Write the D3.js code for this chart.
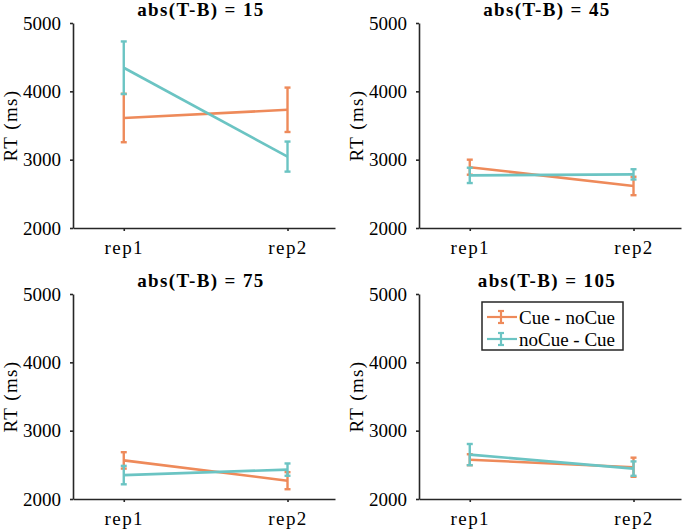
<!DOCTYPE html>
<html>
<head>
<meta charset="utf-8">
<script src="https://cdn.jsdelivr.net/npm/d3@7"></script>
<style>
  body { margin: 0; background: #fff; }
</style>
</head>
<body>
<script>
// conditions on the x axis
var conditions = ["rep1", "rep2"];
// one panel per abs(T-B) level
var panelTitles = ["abs(T-B) = 15", "abs(T-B) = 45", "abs(T-B) = 75", "abs(T-B) = 105"];
var seriesNames = ["Cue - noCue", "noCue - Cue"];
// mean RT per panel [rep1, rep2]
var cueNoCueMean = [[3610, 3730], [2890, 2615], [2565, 2268], [2575, 2465]];
var cueNoCueErr  = [[355, 325], [110, 135], [120, 125], [80, 140]];
var noCueCueMean = [[4345, 3045], [2770, 2785], [2350, 2430], [2650, 2445]];
var noCueCueErr  = [[385, 220], [112, 75], [135, 90], [155, 105]];
var yTicks = [2000, 3000, 4000, 5000];

var colors = ["#EE8A5A", "#6BC4C3"];
var axisColor = "#262626";
var serif = "Liberation Serif, Times New Roman, Times, DejaVu Serif, serif";

var svg = d3.select("body").append("svg")
  .attr("width", 685)
  .attr("height", 532)
  .attr("font-family", serif);

// panel origins (left axis x, top of plot y)
var panelPos = [[73, 23], [419, 23], [73, 294], [419, 294]];
var pw = 262, ph = 205;

var x = d3.scaleLinear().domain([0.69, 2.29]).range([0, pw]);
var y = d3.scaleLinear().domain([2000, 5000]).range([ph, 0]);

panelTitles.forEach(function(title, p) {
  var g = svg.append("g")
    .attr("transform", "translate(" + panelPos[p][0] + "," + panelPos[p][1] + ")");

  // axes
  var yAxis = g.append("g")
    .call(d3.axisLeft(y).tickValues(yTicks).tickFormat(d3.format("d"))
      .tickSizeInner(3).tickSizeOuter(0).tickPadding(9));
  var xAxis = g.append("g")
    .attr("transform", "translate(0," + ph + ")")
    .call(d3.axisBottom(x).tickValues([1, 2]).tickFormat(function(d) { return conditions[d - 1]; })
      .tickSizeInner(3).tickSizeOuter(0).tickPadding(10));

  [yAxis, xAxis].forEach(function(a) {
    a.attr("font-family", serif).attr("font-size", 19);
    a.select(".domain").attr("stroke", axisColor).attr("stroke-width", 1.6);
    a.selectAll(".tick line").attr("stroke", axisColor).attr("stroke-width", 1.6);
    a.selectAll("text").attr("fill", "#000");
  });
  xAxis.selectAll("text").attr("letter-spacing", "1.4px");

  // y label
  g.append("text")
    .attr("transform", "translate(-63," + (ph / 2) + ") rotate(-90)")
    .attr("text-anchor", "middle")
    .attr("dy", "0.35em")
    .attr("font-size", 19)
    .attr("letter-spacing", "1.4px")
    .text("RT (ms)");

  // title
  g.append("text")
    .attr("x", pw / 2 - 3)
    .attr("y", -7)
    .attr("text-anchor", "middle")
    .attr("font-size", 19)
    .attr("font-weight", "bold")
    .attr("letter-spacing", "1.4px")
    .text(title);

  // series: orange first, teal on top
  [[cueNoCueMean[p], cueNoCueErr[p]], [noCueCueMean[p], noCueCueErr[p]]].forEach(function(s, si) {
    var pts = conditions.map(function(c, i) { return { x: i + 1, m: s[0][i], e: s[1][i] }; });
    var col = colors[si];
    g.append("path")
      .datum(pts)
      .attr("fill", "none")
      .attr("stroke", col)
      .attr("stroke-width", 2.6)
      .attr("d", d3.line().x(function(d) { return x(d.x); }).y(function(d) { return y(d.m); }));
    var eb = g.selectAll(null).data(pts).enter().append("g").attr("stroke", col).attr("stroke-width", 2.4);
    eb.append("line")
      .attr("x1", function(d) { return x(d.x); }).attr("x2", function(d) { return x(d.x); })
      .attr("y1", function(d) { return y(d.m - d.e); }).attr("y2", function(d) { return y(d.m + d.e); });
    eb.append("line")
      .attr("x1", function(d) { return x(d.x) - 3; }).attr("x2", function(d) { return x(d.x) + 3; })
      .attr("y1", function(d) { return y(d.m + d.e); }).attr("y2", function(d) { return y(d.m + d.e); });
    eb.append("line")
      .attr("x1", function(d) { return x(d.x) - 3; }).attr("x2", function(d) { return x(d.x) + 3; })
      .attr("y1", function(d) { return y(d.m - d.e); }).attr("y2", function(d) { return y(d.m - d.e); });
  });

  // legend in last panel
  if (p === 3) {
    var lg = g.append("g").attr("transform", "translate(" + (482 - 419) + "," + (302 - 294) + ")");
    lg.append("rect")
      .attr("width", 141).attr("height", 48)
      .attr("fill", "#fff").attr("stroke", axisColor).attr("stroke-width", 1.5);
    seriesNames.forEach(function(name, i) {
      var cy = 15 + i * 22;
      var row = lg.append("g").attr("stroke", colors[i]).attr("stroke-width", 2.2);
      row.append("line").attr("x1", 5).attr("x2", 35).attr("y1", cy).attr("y2", cy);
      row.append("line").attr("x1", 19).attr("x2", 19).attr("y1", cy - 6).attr("y2", cy + 6);
      row.append("line").attr("x1", 16).attr("x2", 22).attr("y1", cy - 6).attr("y2", cy - 6);
      row.append("line").attr("x1", 16).attr("x2", 22).attr("y1", cy + 6).attr("y2", cy + 6);
      lg.append("text")
        .attr("x", 37).attr("y", cy)
        .attr("dy", "0.35em")
        .attr("font-size", 19)
        .text(name);
    });
  }
});
</script>
</body>
</html>
